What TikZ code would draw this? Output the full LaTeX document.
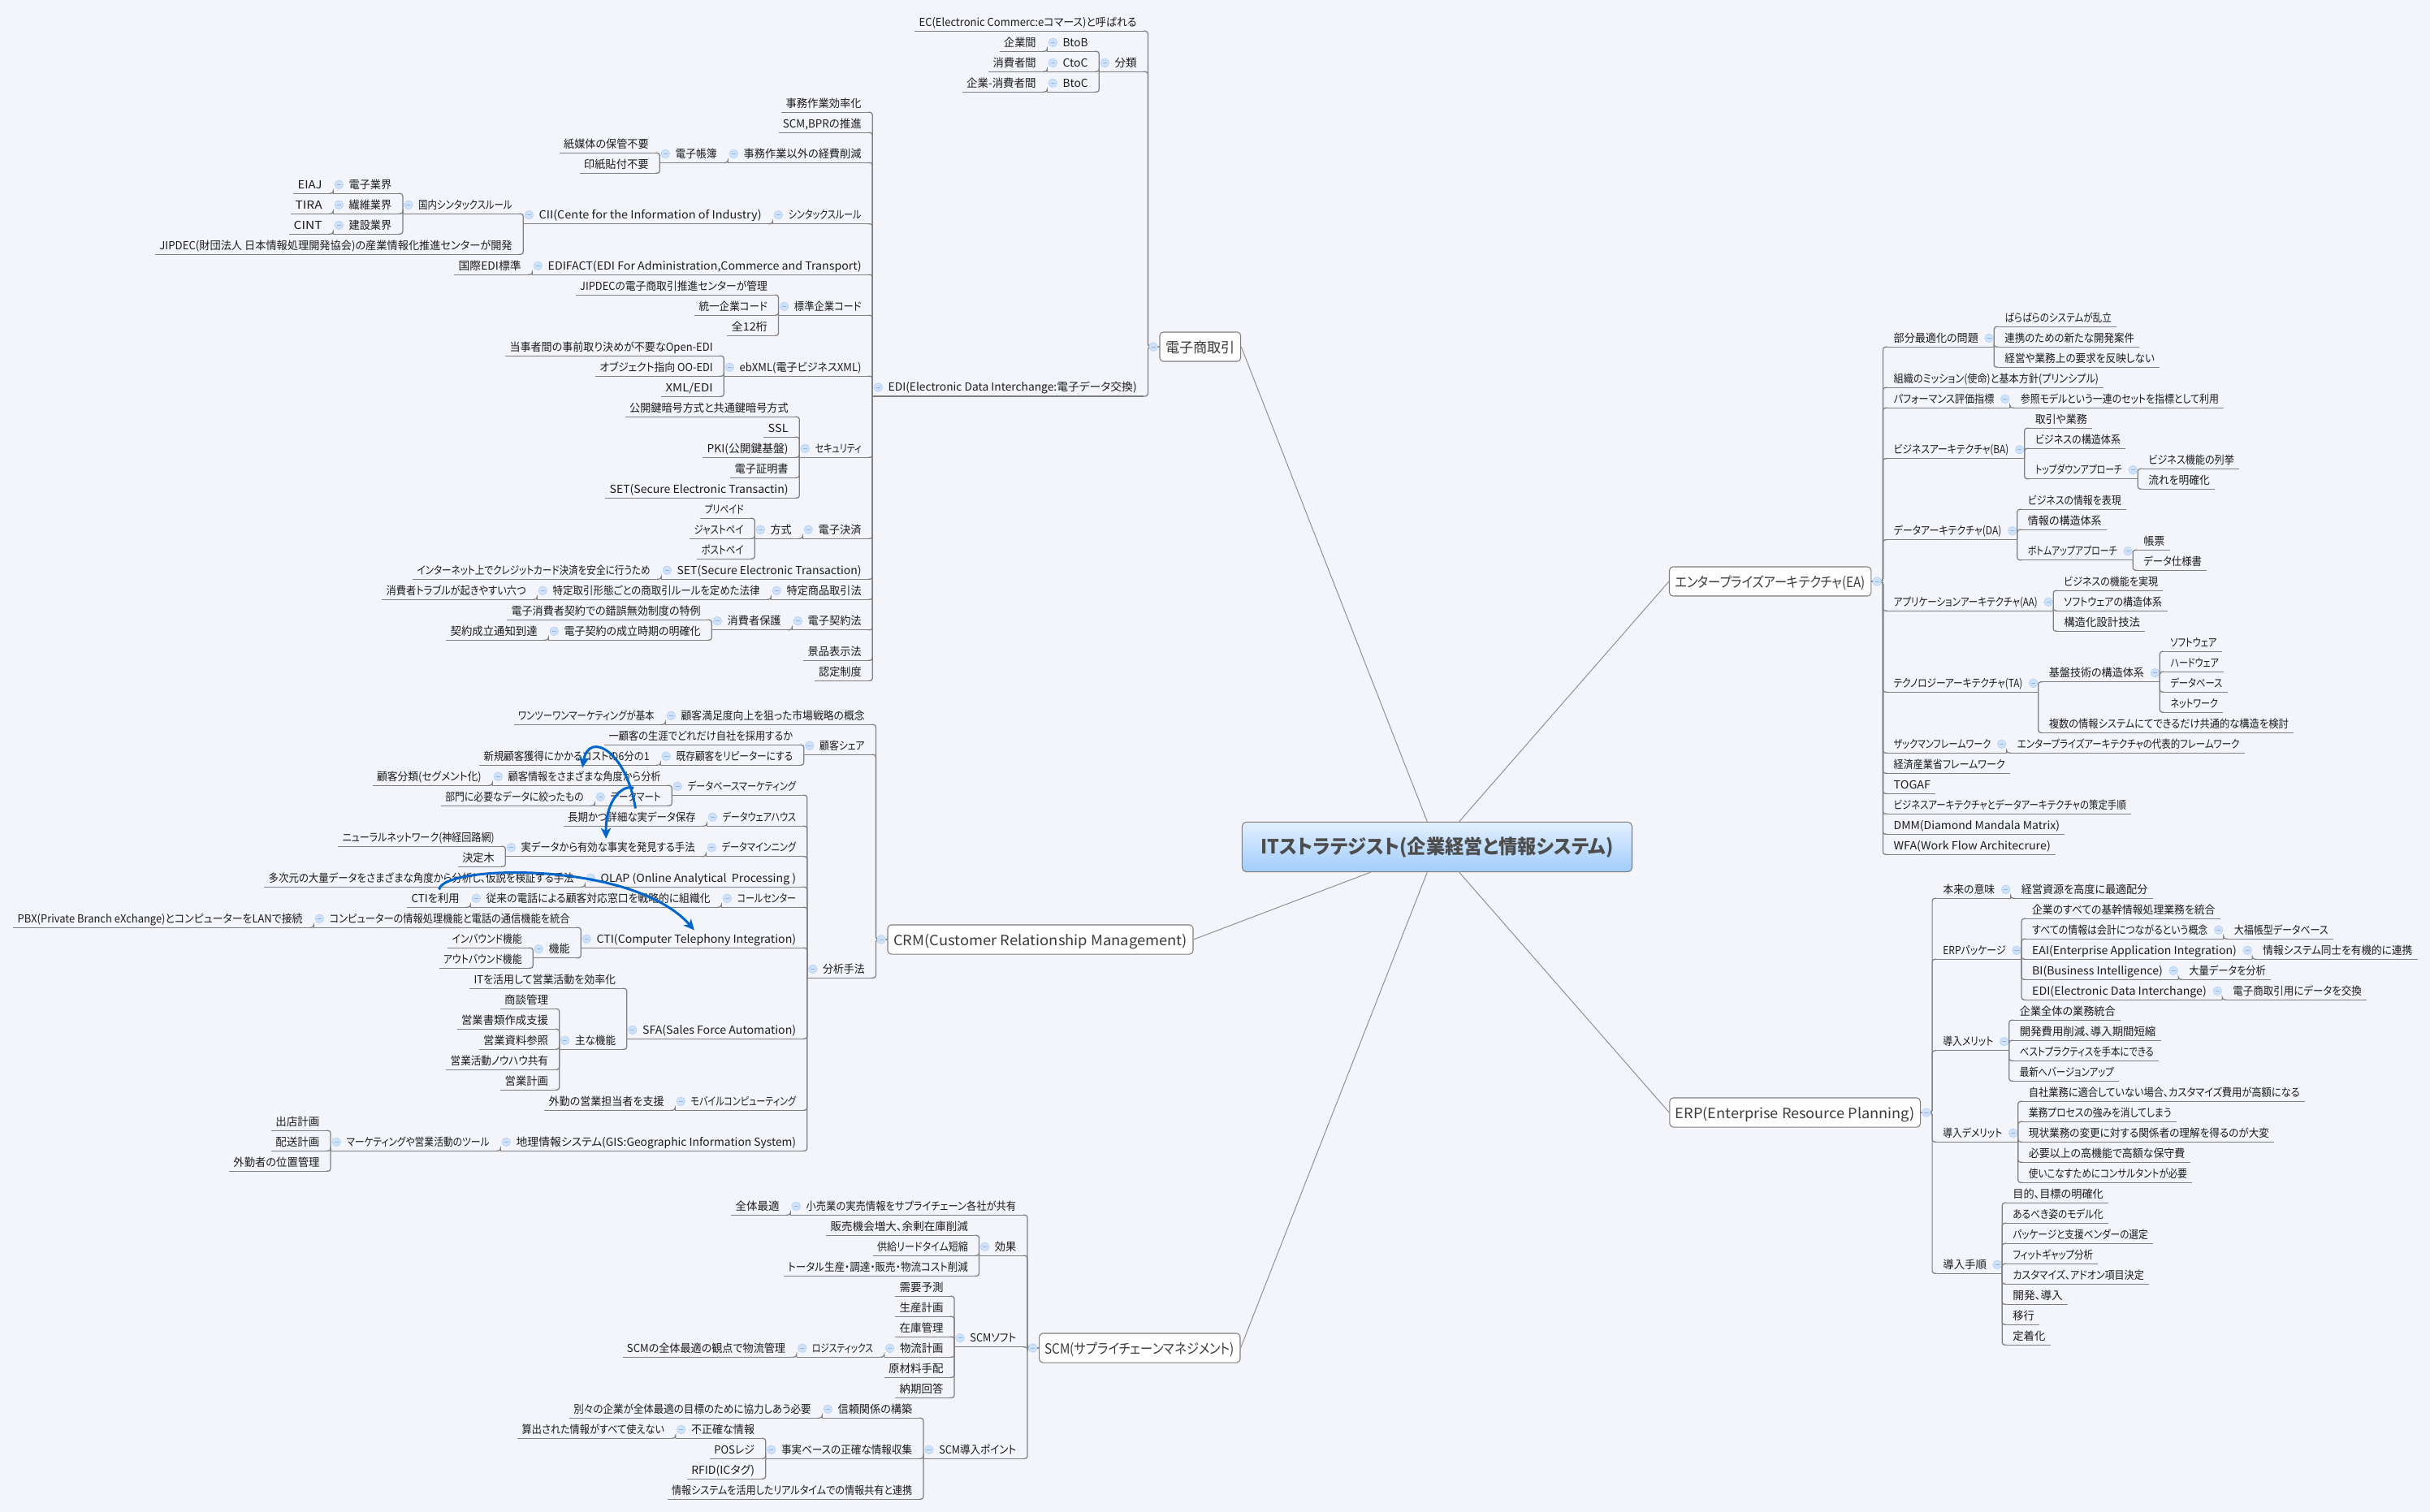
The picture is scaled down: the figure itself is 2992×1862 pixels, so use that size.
\documentclass[tikz,border=0pt]{standalone}
\usepackage{graphicx}
\usepackage{fontspec}
\setmainfont{Noto Sans CJK JP}[RawFeature=+palt]
\usepackage{tikz}
\usetikzlibrary{arrows.meta}

\definecolor{paper}{HTML}{F3F5FB}
\definecolor{linkgray}{HTML}{7F7F7F}
\definecolor{spokegray}{HTML}{8E8E8E}
\definecolor{inkgray}{HTML}{1C1C1C}
\definecolor{boxink}{HTML}{3C3C3C}
\definecolor{rootink}{HTML}{4D4D4D}
\definecolor{rootlight}{HTML}{E3F0FF}
\definecolor{rootdeep}{HTML}{A0CCFA}
\definecolor{discfill}{HTML}{D0E2FA}
\definecolor{discedge}{HTML}{B8D2F5}
\definecolor{discbar}{HTML}{8FB5E8}
\definecolor{relblue}{HTML}{0066CC}

\newdimen\px \px=0.569pt
\newbox\fitbox
\newcommand{\topicfont}{\fontsize{7.8}{9}\selectfont}
\newcommand{\boxfont}{\fontsize{9.9}{11}\selectfont}
\newcommand{\rootfont}{\fontsize{13.7}{15}\selectfont\bfseries}
\newcommand{\minusmark}[1]{\draw[markdisc] #1 circle[radius=5.3]; \draw[markbar] #1 ++(-2.6,0) -- ++(5.2,0);}

\tikzset{
	markdisc/.style={draw=discedge,fill=discfill,line width=0.4pt},
	markbar/.style={draw=discbar,line width=0.5pt},
	fitted/.style n args={3}{
		execute at begin node={\setbox\fitbox=\hbox\bgroup},
		execute at end node={\egroup\hspace*{#2\px}\resizebox{\dimexpr#1\px-#2\px-#3\px\relax}{\height}{\box\fitbox}\hspace*{#3\px}}},
	topic/.style={inner sep=0pt,text depth=3.3pt,text height=8.7pt,text=inkgray,font=\topicfont},
	uline/.style={draw=linkgray,line width=0.7pt},
	lleaf/.style={topic,anchor=south east,fitted={#1}{5}{14},
		append after command={(\tikzlastnode.south west) edge[uline] ([xshift=-3.4pt]\tikzlastnode.south east)}},
	lnode/.style={topic,anchor=south east,fitted={#1}{19}{14},
		append after command={(\tikzlastnode.south west) edge[uline] ([xshift=-3.4pt]\tikzlastnode.south east)
		\pgfextra{\minusmark{([shift={(7,-11)}]\tikzlastnode.south west)}}}},
	rleaf/.style={topic,anchor=south west,fitted={#1}{13.5}{6},
		append after command={([xshift=3.4pt]\tikzlastnode.south west) edge[uline] (\tikzlastnode.south east)}},
	rnode/.style={topic,anchor=south west,fitted={#1}{13.5}{19},
		append after command={([xshift=3.4pt]\tikzlastnode.south west) edge[uline] (\tikzlastnode.south east)
		\pgfextra{\minusmark{([shift={(-6,-11)}]\tikzlastnode.south east)}}}},
	lcon/.style={draw=linkgray,line width=0.7pt,rounded corners=1.8pt,
		to path={(\tikztostart.south west) |- ([xshift=-3.4pt]\tikztotarget.south east)}},
	rcon/.style={draw=linkgray,line width=0.7pt,rounded corners=1.8pt,
		to path={(\tikztostart.south east) |- ([xshift=3.4pt]\tikztotarget.south west)}},
	lboxcon/.style={draw=linkgray,line width=0.7pt,rounded corners=1.8pt,
		to path={(\tikztostart.west) -- ([xshift=-8pt]\tikztostart.west) |- ([xshift=-3.4pt]\tikztotarget.south east)}},
	rboxcon/.style={draw=linkgray,line width=0.7pt,rounded corners=1.8pt,
		to path={(\tikztostart.east) -- ([xshift=8pt]\tikztostart.east) |- ([xshift=3.4pt]\tikztotarget.south west)}},
	mainbox/.style={draw=linkgray,fill=white,line width=0.6pt,rounded corners=2.5pt,inner sep=0pt,
		text depth=3pt,text height=11pt,minimum height=20.5pt,text=boxink,font=\boxfont,fitted={#1}{7}{7}},
	rootbox/.style={draw=linkgray,top color=rootlight,bottom color=rootdeep,line width=0.6pt,rounded corners=3pt,inner sep=0pt,
		text depth=4pt,text height=14pt,minimum height=34.9pt,text=rootink,font=\rootfont,fitted={#1}{23}{23}},
	spoke/.style={draw=spokegray,line width=0.55pt},
	relation/.style={draw=relblue,line width=1.7pt,-{Stealth[length=7.5pt,width=7pt,inset=2pt]}},
}

\begin{document}
\begin{tikzpicture}[x=0.569pt,y=-0.569pt]
	\fill[paper] (0,0) rectangle (2992,1862);
	\useasboundingbox (0,0) rectangle (2992,1862);

	\node[rootbox=480] (root) at (1769.45,1043) {ITストラテジスト(企業経営と情報システム)};
	\node[mainbox=99.7] (elec) at (1477.85,427) {電子商取引};
	\node[mainbox=376] (crm) at (1281,1157) {CRM(Customer Relationship Management)};
	\node[mainbox=247.4] (scm) at (1403.3,1660) {SCM(サプライチェーンマネジメント)};
	\node[mainbox=248.3] (ea) at (2179.65,716) {エンタープライズアーキテクチャ(EA)};
	\node[mainbox=308.7] (erp) at (2210.15,1370) {ERP(Enterprise Resource Planning)};
	\draw[spoke] (root) -- (elec.east);
	\draw[spoke] (root) -- (crm.east);
	\draw[spoke] (root) -- (scm.east);
	\draw[spoke] (root) -- (ea.west);
	\draw[spoke] (root) -- (erp.west);

	\node[lleaf=287] (ec) at (1414,38.3) {EC(Electronic Commerc:eコマース)と呼ばれる};
	\node[lnode=60] (bunrui) at (1414,88.3) {分類};
	\node[lnode=64] (btob) at (1354,63.3) {BtoB};
	\node[lleaf=58.6] (kigyokan) at (1290,63.3) {企業間};
	\node[lnode=64] (ctoc) at (1354,88.3) {CtoC};
	\node[lleaf=72] (shohikan) at (1290,88.3) {消費者間};
	\node[lnode=64] (btoc) at (1354,113.3) {BtoC};
	\node[lleaf=104.5] (kigyoshohi) at (1290,113.3) {企業-消費者間};
	\node[lnode=339] (edi) at (1414,488) {EDI(Electronic Data Interchange:電子データ交換)};
	\path (elec) edge[lboxcon] (ec) edge[lboxcon] (bunrui) edge[lboxcon] (edi);
	\minusmark{([xshift=-4.2pt]elec.west)}
	\path (bunrui) edge[lcon] (btob) edge[lcon] (ctoc) edge[lcon] (btoc);
	\path (btob) edge[lcon] (kigyokan);
	\path (ctoc) edge[lcon] (shohikan);
	\path (btoc) edge[lcon] (kigyoshohi);

	\node[lleaf=112] (jimu) at (1075,138.3) {事務作業効率化};
	\node[lleaf=115.7] (scmbpr) at (1075,163.3) {SCM,BPRの推進};
	\node[lnode=178] (keihi) at (1075,200.4) {事務作業以外の経費削減};
	\node[lnode=84] (chobo) at (897,200.4) {電子帳簿};
	\node[lleaf=123.5] (kamibaitai) at (813,188.3) {紙媒体の保管不要};
	\node[lleaf=98.8] (inshi) at (813,213.3) {印紙貼付不要};
	\path (keihi) edge[lcon] (chobo);
	\path (chobo) edge[lcon] (kamibaitai) edge[lcon] (inshi);
	\node[lnode=123] (syntax) at (1075,275.7) {シンタックスルール};
	\node[lnode=307] (cii) at (952,275.7) {CII(Cente for the Information of Industry)};
	\node[lnode=148.4] (kokunai) at (645,263.3) {国内シンタックスルール};
	\node[lnode=85.6] (denshi) at (496.6,238.3) {電子業界};
	\node[lleaf=49] (eiaj) at (411,238.3) {EIAJ};
	\node[lnode=85.6] (seni) at (496.6,263.3) {繊維業界};
	\node[lleaf=52] (tira) at (411,263.3) {TIRA};
	\node[lnode=85.6] (kensetsu) at (496.6,288.3) {建設業界};
	\node[lleaf=54] (cint) at (411,288.3) {CINT};
	\node[lleaf=453.2] (jipdec) at (645,313.3) {JIPDEC(財団法人 日本情報処理開発協会)の産業情報化推進センターが開発};
	\path (syntax) edge[lcon] (cii);
	\path (cii) edge[lcon] (kokunai) edge[lcon] (jipdec);
	\path (kokunai) edge[lcon] (denshi) edge[lcon] (seni) edge[lcon] (kensetsu);
	\path (denshi) edge[lcon] (eiaj);
	\path (seni) edge[lcon] (tira);
	\path (kensetsu) edge[lcon] (cint);
	\node[lnode=419] (edifact) at (1075,338.3) {EDIFACT(EDI For Administration,Commerce and Transport)};
	\node[lleaf=96] (kokusai) at (656,338.3) {国際EDI標準};
	\path (edifact) edge[lcon] (kokusai);
	\node[lnode=115.7] (hyojun) at (1075,388.3) {標準企業コード};
	\node[lleaf=249.7] (jipkanri) at (959.3,363.3) {JIPDECの電子商取引推進センターが管理};
	\node[lleaf=103.3] (toitsu) at (959.3,388.3) {統一企業コード};
	\node[lleaf=63.3] (zen12) at (959.3,413.3) {全12桁};
	\path (hyojun) edge[lcon] (jipkanri) edge[lcon] (toitsu) edge[lcon] (zen12);
	\node[lnode=183] (ebxml) at (1075,463.3) {ebXML(電子ビジネスXML)};
	\node[lleaf=269] (opendi) at (892,438.3) {当事者間の事前取り決めが不要なOpen-EDI};
	\node[lleaf=158.3] (ooedi) at (892,463.3) {オブジェクト指向 OO-EDI};
	\node[lleaf=77] (xmledi) at (892,488.3) {XML/EDI};
	\path (ebxml) edge[lcon] (opendi) edge[lcon] (ooedi) edge[lcon] (xmledi);
	\node[lnode=90] (security) at (1075,563.3) {セキュリティ};
	\node[lleaf=214.5] (kagi) at (985,513.3) {公開鍵暗号方式と共通鍵暗号方式};
	\node[lleaf=44] (ssl) at (985,538.3) {SSL};
	\node[lleaf=119] (pki) at (985,563.3) {PKI(公開鍵基盤)};
	\node[lleaf=85] (shomei) at (985,588.3) {電子証明書};
	\node[lleaf=239] (settr) at (985,613.3) {SET(Secure Electronic Transactin)};
	\path (security) edge[lcon] (kagi) edge[lcon] (ssl) edge[lcon] (pki) edge[lcon] (shomei) edge[lcon] (settr);
	\node[lnode=86] (kessai) at (1075,663.3) {電子決済};
	\node[lnode=59] (hoshiki) at (989,663.3) {方式};
	\node[lleaf=67] (prepaid) at (930,638.3) {プリペイド};
	\node[lleaf=80] (justpay) at (930,663.3) {ジャストペイ};
	\node[lleaf=71] (postpay) at (930,688.3) {ポストペイ};
	\path (kessai) edge[lcon] (hoshiki);
	\path (hoshiki) edge[lcon] (prepaid) edge[lcon] (justpay) edge[lcon] (postpay);
	\node[lnode=260] (setnode) at (1075,713.3) {SET(Secure Electronic Transaction)};
	\node[lleaf=306] (internet) at (815,713.3) {インターネット上でクレジットカード決済を安全に行うため};
	\path (setnode) edge[lcon] (internet);
	\node[lnode=125] (tokutei) at (1075,738.3) {特定商品取引法};
	\node[lnode=288] (keitai) at (950,738.3) {特定取引形態ごとの商取引ルールを定めた法律};
	\node[lleaf=191] (trouble) at (662,738.3) {消費者トラブルが起きやすい六つ};
	\path (tokutei) edge[lcon] (keitai);
	\path (keitai) edge[lcon] (trouble);
	\node[lnode=99] (keiyaku) at (1075,775.7) {電子契約法};
	\node[lnode=99] (hogo) at (976,775.7) {消費者保護};
	\node[lleaf=252] (sakugo) at (877,763.3) {電子消費者契約での錯誤無効制度の特例};
	\node[lnode=201] (seiritsu) at (877,788.3) {電子契約の成立時期の明確化};
	\node[lleaf=126] (tsuchi) at (676,788.3) {契約成立通知到達};
	\path (keiyaku) edge[lcon] (hogo);
	\path (hogo) edge[lcon] (sakugo) edge[lcon] (seiritsu);
	\path (seiritsu) edge[lcon] (tsuchi);
	\node[lleaf=85] (keihin) at (1075,813.3) {景品表示法};
	\node[lleaf=71.5] (nintei) at (1075,838.3) {認定制度};
	\path (edi) edge[lcon] (jimu) edge[lcon] (scmbpr) edge[lcon] (keihi) edge[lcon] (syntax) edge[lcon] (edifact) edge[lcon] (hyojun) edge[lcon] (ebxml) edge[lcon] (security) edge[lcon] (kessai) edge[lcon] (setnode) edge[lcon] (tokutei) edge[lcon] (keiyaku) edge[lcon] (keihin) edge[lcon] (nintei);

	\node[lnode=259] (manzoku) at (1079,892.3) {顧客満足度向上を狙った市場戦略の概念};
	\node[lleaf=186.5] (one2one) at (820,892.3) {ワンツーワンマーケティングが基本};
	\node[lnode=88.5] (share) at (1079,929.3) {顧客シェア};
	\node[lleaf=245.5] (shogai) at (990.5,917.3) {一顧客の生涯でどれだけ自社を採用するか};
	\node[lnode=176.5] (repeater) at (990.5,942.3) {既存顧客をリピーターにする};
	\node[lleaf=223] (shinki) at (814,942.3) {新規顧客獲得にかかるコストの6分の1};
	\node[lnode=84.5] (bunseki) at (1079,1204.3) {分析手法};
	\path (crm) edge[lboxcon] (manzoku) edge[lboxcon] (share) edge[lboxcon] (bunseki);
	\minusmark{([xshift=-4.2pt]crm.west)}
	\path (manzoku) edge[lcon] (one2one);
	\path (share) edge[lcon] (shogai) edge[lcon] (repeater);
	\path (repeater) edge[lcon] (shinki);
	\node[lnode=166.5] (dbmkt) at (994.5,979.3) {データベースマーケティング};
	\node[lnode=221] (kakudo) at (828,967.3) {顧客情報をさまざまな角度から分析};
	\node[lleaf=147.5] (segment) at (607,967.3) {顧客分類(セグメント化)};
	\node[lnode=95] (datamart) at (828,992.3) {データマート};
	\node[lleaf=189.3] (bumon) at (733,992.3) {部門に必要なデータに絞ったもの};
	\path (dbmkt) edge[lcon] (kakudo) edge[lcon] (datamart);
	\path (kakudo) edge[lcon] (segment);
	\path (datamart) edge[lcon] (bumon);
	\node[lnode=123.5] (dwh) at (994.5,1017.3) {データウェアハウス};
	\node[lleaf=176.5] (nagaki) at (871,1017.3) {長期かつ詳細な実データ保存};
	\path (dwh) edge[lcon] (nagaki);
	\node[lnode=124.5] (mining) at (994.5,1054.7) {データマインニング};
	\node[lnode=247] (hakken) at (870,1054.7) {実データから有効な事実を発見する手法};
	\node[lleaf=206] (neural) at (623,1042.3) {ニューラルネットワーク(神経回路網)};
	\node[lleaf=58.3] (kettei) at (623,1067.3) {決定木};
	\path (mining) edge[lcon] (hakken);
	\path (hakken) edge[lcon] (neural) edge[lcon] (kettei);
	\node[lnode=273.5] (olap) at (994.5,1092.3) {OLAP (Online Analytical\ \ Processing )};
	\node[lleaf=395] (tajigen) at (721,1092.3) {多次元の大量データをさまざまな角度から分析し、仮説を検証する手法};
	\path (olap) edge[lcon] (tajigen);
	\node[lnode=105.5] (callcenter) at (994.5,1117.3) {コールセンター};
	\node[lnode=309] (juurai) at (889,1117.3) {従来の電話による顧客対応窓口を戦略的に組織化};
	\node[lleaf=78] (ctiuse) at (580,1117.3) {CTIを利用};
	\path (callcenter) edge[lcon] (juurai);
	\path (juurai) edge[lcon] (ctiuse);
	\node[lnode=278.5] (cti) at (994.5,1167.3) {CTI(Computer Telephony Integration)};
	\node[lnode=329] (tougou) at (716,1142.3) {コンピューターの情報処理機能と電話の通信機能を統合};
	\node[lleaf=370] (pbx) at (387,1142.3) {PBX(Private Branch eXchange)とコンピューターをLANで接続};
	\node[lnode=59] (kinou) at (716,1179.7) {機能};
	\node[lleaf=105] (inbound) at (657,1167.3) {インバウンド機能};
	\node[lleaf=115.6] (outbound) at (657,1192.3) {アウトバウンド機能};
	\path (cti) edge[lcon] (tougou) edge[lcon] (kinou);
	\path (tougou) edge[lcon] (pbx);
	\path (kinou) edge[lcon] (inbound) edge[lcon] (outbound);
	\node[lnode=222] (sfa) at (994.5,1279.3) {SFA(Sales Force Automation)};
	\node[lleaf=193.5] (itkatsuyo) at (772.5,1217.3) {ITを活用して営業活動を効率化};
	\node[lnode=83.1] (omona) at (772.5,1292.3) {主な機能};
	\node[lleaf=73] (shodan) at (689.4,1242.3) {商談管理};
	\node[lleaf=126] (shorui) at (689.4,1267.3) {営業書類作成支援};
	\node[lleaf=99] (shiryo) at (689.4,1292.3) {営業資料参照};
	\node[lleaf=139.4] (knowhow) at (689.4,1317.3) {営業活動ノウハウ共有};
	\node[lleaf=72.4] (keikaku) at (689.4,1342.3) {営業計画};
	\path (sfa) edge[lcon] (itkatsuyo) edge[lcon] (omona);
	\path (omona) edge[lcon] (shodan) edge[lcon] (shorui) edge[lcon] (shiryo) edge[lcon] (knowhow) edge[lcon] (keikaku);
	\node[lnode=162.5] (mobile) at (994.5,1367.3) {モバイルコンピューティング};
	\node[lleaf=161] (gaikin) at (832,1367.3) {外勤の営業担当者を支援};
	\path (mobile) edge[lcon] (gaikin);
	\node[lnode=377.5] (gis) at (994.5,1417.3) {地理情報システム(GIS:Geographic Information System)};
	\node[lnode=209.2] (tool) at (617,1417.3) {マーケティングや営業活動のツール};
	\node[lleaf=73] (shutten) at (407.8,1392.3) {出店計画};
	\node[lleaf=73] (haiso) at (407.8,1417.3) {配送計画};
	\node[lleaf=125] (ichi) at (407.8,1442.3) {外勤者の位置管理};
	\path (gis) edge[lcon] (tool);
	\path (tool) edge[lcon] (shutten) edge[lcon] (haiso) edge[lcon] (ichi);
	\path (bunseki) edge[lcon] (dbmkt) edge[lcon] (dwh) edge[lcon] (mining) edge[lcon] (olap) edge[lcon] (callcenter) edge[lcon] (cti) edge[lcon] (sfa) edge[lcon] (mobile) edge[lcon] (gis);

	\node[lnode=291.6] (kouri) at (1265.6,1496.3) {小売業の実売情報をサプライチェーン各社が共有};
	\node[lleaf=73] (zentai) at (974,1496.3) {全体最適};
	\node[lnode=59.3] (kouka) at (1265.6,1546.3) {効果};
	\node[lleaf=188.3] (hanbai) at (1206.3,1521.3) {販売機会増大、余剰在庫削減};
	\node[lleaf=130.9] (kyokyu) at (1206.3,1546.3) {供給リードタイム短縮};
	\node[lleaf=240.6] (total) at (1206.3,1571.3) {トータル生産・調達・販売・物流コスト削減};
	\node[lnode=89.8] (soft) at (1265.6,1658.7) {SCMソフト};
	\node[lleaf=72.8] (juyo) at (1175.8,1596.3) {需要予測};
	\node[lleaf=72.8] (seisan) at (1175.8,1621.3) {生産計画};
	\node[lleaf=72.8] (zaiko) at (1175.8,1646.3) {在庫管理};
	\node[lnode=86.4] (butsuryu) at (1175.8,1671.3) {物流計画};
	\node[lnode=108] (logi) at (1089.4,1671.3) {ロジスティックス};
	\node[lleaf=214.1] (kanten) at (981.4,1671.3) {SCMの全体最適の観点で物流管理};
	\node[lleaf=86.3] (genzai) at (1175.8,1696.3) {原材料手配};
	\node[lleaf=72.8] (noki) at (1175.8,1721.3) {納期回答};
	\node[lnode=128] (point) at (1265.6,1796.3) {SCM導入ポイント};
	\node[lnode=124.6] (shinrai) at (1137.6,1746.3) {信頼関係の構築};
	\node[lleaf=311.4] (betsubetsu) at (1013,1746.3) {別々の企業が全体最適の目標のために協力しあう必要};
	\node[lnode=194.2] (jijitsu) at (1137.6,1796.3) {事実ベースの正確な情報収集};
	\node[lnode=111] (fuseikaku) at (943.4,1771.3) {不正確な情報};
	\node[lleaf=194.4] (sanshutsu) at (832.4,1771.3) {算出された情報がすべて使えない};
	\node[lleaf=68.7] (pos) at (943.4,1796.3) {POSレジ};
	\node[lleaf=96.8] (rfid) at (943.4,1821.3) {RFID(ICタグ)};
	\node[lleaf=315.1] (realtime) at (1137.6,1846.3) {情報システムを活用したリアルタイムでの情報共有と連携};
	\path (scm) edge[lboxcon] (kouri) edge[lboxcon] (kouka) edge[lboxcon] (soft) edge[lboxcon] (point);
	\minusmark{([xshift=-4.2pt]scm.west)}
	\path (kouri) edge[lcon] (zentai);
	\path (kouka) edge[lcon] (hanbai) edge[lcon] (kyokyu) edge[lcon] (total);
	\path (soft) edge[lcon] (juyo) edge[lcon] (seisan) edge[lcon] (zaiko) edge[lcon] (butsuryu) edge[lcon] (genzai) edge[lcon] (noki);
	\path (butsuryu) edge[lcon] (logi);
	\path (logi) edge[lcon] (kanten);
	\path (point) edge[lcon] (shinrai) edge[lcon] (jijitsu) edge[lcon] (realtime);
	\path (shinrai) edge[lcon] (betsubetsu);
	\path (jijitsu) edge[lcon] (fuseikaku) edge[lcon] (pos) edge[lcon] (rfid);
	\path (fuseikaku) edge[lcon] (sanshutsu);

	\node[rnode=136.7] (bubun) at (2317.8,427.3) {部分最適化の問題};
	\node[rleaf=151] (barabara) at (2454.5,402.3) {ばらばらのシステムが乱立};
	\node[rleaf=179.1] (renkei) at (2454.5,427.3) {連携のための新たな開発案件};
	\node[rleaf=204.1] (hanei) at (2454.5,452.3) {経営や業務上の要求を反映しない};
	\path (bubun) edge[rcon] (barabara) edge[rcon] (renkei) edge[rcon] (hanei);
	\node[rleaf=271.9] (mission) at (2317.8,477.3) {組織のミッション(使命)と基本方針(プリンシプル)};
	\node[rnode=156.2] (perf) at (2317.8,502.3) {パフォーマンス評価指標};
	\node[rleaf=263.6] (sansho) at (2474,502.3) {参照モデルという一連のセットを指標として利用};
	\path (perf) edge[rcon] (sansho);
	\node[rnode=174.2] (ba) at (2317.8,564.7) {ビジネスアーキテクチャ(BA)};
	\node[rleaf=83.4] (torihiki) at (2492,527.3) {取引や業務};
	\node[rleaf=124.7] (bakozo) at (2492,552.3) {ビジネスの構造体系};
	\node[rnode=139.5] (topdown) at (2492,589.7) {トップダウンアプローチ};
	\node[rleaf=125] (rekkyo) at (2631.5,577.3) {ビジネス機能の列挙};
	\node[rleaf=95] (nagare) at (2631.5,602.3) {流れを明確化};
	\path (ba) edge[rcon] (torihiki) edge[rcon] (bakozo) edge[rcon] (topdown);
	\path (topdown) edge[rcon] (rekkyo) edge[rcon] (nagare);
	\node[rnode=165.2] (da) at (2317.8,664.7) {データアーキテクチャ(DA)};
	\node[rleaf=134.3] (hyogen) at (2483,627.3) {ビジネスの情報を表現};
	\node[rleaf=110.3] (jokozo) at (2483,652.3) {情報の構造体系};
	\node[rnode=142.4] (bottomup) at (2483,689.7) {ボトムアップアプローチ};
	\node[rleaf=45.6] (chohyo) at (2625.4,677.3) {帳票};
	\node[rleaf=91.3] (shiyo) at (2625.4,702.3) {データ仕様書};
	\path (da) edge[rcon] (hyogen) edge[rcon] (jokozo) edge[rcon] (bottomup);
	\path (bottomup) edge[rcon] (chohyo) edge[rcon] (shiyo);
	\node[rnode=209.6] (aa) at (2317.8,752.3) {アプリケーションアーキテクチャ(AA)};
	\node[rleaf=135.3] (jitsugen) at (2527.4,727.3) {ビジネスの機能を実現};
	\node[rleaf=140.4] (swkozo) at (2527.4,752.3) {ソフトウェアの構造体系};
	\node[rleaf=113.3] (sekkei) at (2527.4,777.3) {構造化設計技法};
	\path (aa) edge[rcon] (jitsugen) edge[rcon] (swkozo) edge[rcon] (sekkei);
	\node[rnode=191.2] (ta) at (2317.8,852.3) {テクノロジーアーキテクチャ(TA)};
	\node[rnode=149.6] (kiban) at (2509,839.7) {基盤技術の構造体系};
	\node[rleaf=76.4] (software) at (2658.6,802.3) {ソフトウェア};
	\node[rleaf=79] (hardware) at (2658.6,827.3) {ハードウェア};
	\node[rleaf=83.4] (database) at (2658.6,852.3) {データベース};
	\node[rleaf=78] (network) at (2658.6,877.3) {ネットワーク};
	\node[rleaf=314.4] (fukusu) at (2509,902.3) {複数の情報システムにてできるだけ共通的な構造を検討};
	\path (ta) edge[rcon] (kiban) edge[rcon] (fukusu);
	\path (kiban) edge[rcon] (software) edge[rcon] (hardware) edge[rcon] (database) edge[rcon] (network);
	\node[rnode=152.2] (zachman) at (2317.8,927.3) {ザックマンフレームワーク};
	\node[rleaf=293] (daihyo) at (2470,927.3) {エンタープライズアーキテクチャの代表的フレームワーク};
	\path (zachman) edge[rcon] (daihyo);
	\node[rleaf=156.6] (meti) at (2317.8,952.3) {経済産業省フレームワーク};
	\node[rleaf=64.8] (togaf) at (2317.8,977.3) {TOGAF};
	\node[rleaf=305.6] (sakutei) at (2317.8,1002.3) {ビジネスアーキテクチャとデータアーキテクチャの策定手順};
	\node[rleaf=223.9] (dmm) at (2317.8,1027.3) {DMM(Diamond Mandala Matrix)};
	\node[rleaf=212.7] (wfa) at (2317.8,1052.3) {WFA(Work Flow Architecrure)};
	\path (ea) edge[rboxcon] (bubun) edge[rboxcon] (mission) edge[rboxcon] (perf) edge[rboxcon] (ba) edge[rboxcon] (da) edge[rboxcon] (aa) edge[rboxcon] (ta) edge[rboxcon] (zachman) edge[rboxcon] (meti) edge[rboxcon] (togaf) edge[rboxcon] (sakutei) edge[rboxcon] (dmm) edge[rboxcon] (wfa);
	\minusmark{([xshift=3.9pt]ea.east)}

	\node[rnode=96.5] (honrai) at (2378.5,1106.3) {本来の意味};
	\node[rleaf=175] (haibun) at (2475,1106.3) {経営資源を高度に最適配分};
	\path (honrai) edge[rcon] (haibun);
	\node[rnode=109.8] (package) at (2378.5,1181.3) {ERPパッケージ};
	\node[rleaf=244.7] (kikan) at (2488.3,1131.3) {企業のすべての基幹情報処理業務を統合};
	\node[rnode=248.7] (kaikei) at (2488.3,1156.3) {すべての情報は会計につながるという概念};
	\node[rleaf=135.3] (daifuku) at (2737,1156.3) {大福帳型データベース};
	\node[rnode=284.2] (eai) at (2488.3,1181.3) {EAI(Enterprise Application Integration)};
	\node[rleaf=203.5] (yuki) at (2772.5,1181.3) {情報システム同士を有機的に連携};
	\node[rnode=193.2] (bi) at (2488.3,1206.3) {BI(Business Intelligence)};
	\node[rleaf=114.1] (tairyo) at (2681.5,1206.3) {大量データを分析};
	\node[rnode=247.2] (ediinter) at (2488.3,1231.3) {EDI(Electronic Data Interchange)};
	\node[rleaf=178] (kokan) at (2735.5,1231.3) {電子商取引用にデータを交換};
	\path (package) edge[rcon] (kikan) edge[rcon] (kaikei) edge[rcon] (eai) edge[rcon] (bi) edge[rcon] (ediinter);
	\path (kaikei) edge[rcon] (daifuku);
	\path (eai) edge[rcon] (yuki);
	\path (bi) edge[rcon] (tairyo);
	\path (ediinter) edge[rcon] (kokan);
	\node[rnode=94.5] (merit) at (2378.5,1293.7) {導入メリット};
	\node[rleaf=137.4] (gyomu) at (2473,1256.3) {企業全体の業務統合};
	\node[rleaf=187] (kaihatsu) at (2473,1281.3) {開発費用削減、導入期間短縮};
	\node[rleaf=184.6] (best) at (2473,1306.3) {ベストプラクティスを手本にできる};
	\node[rleaf=135.5] (saishin) at (2473,1331.3) {最新へバージョンアップ};
	\path (merit) edge[rcon] (gyomu) edge[rcon] (kaihatsu) edge[rcon] (best) edge[rcon] (saishin);
	\node[rnode=105.5] (demerit) at (2378.5,1406.3) {導入デメリット};
	\node[rleaf=353.4] (tekigo) at (2484,1356.3) {自社業務に適合していない場合、カスタマイズ費用が高額になる};
	\node[rleaf=195.3] (tsuyomi) at (2484,1381.3) {業務プロセスの強みを消してしまう};
	\node[rleaf=315.7] (henkou) at (2484,1406.3) {現状業務の変更に対する関係者の理解を得るのが大変};
	\node[rleaf=212] (hoshu) at (2484,1431.3) {必要以上の高機能で高額な保守費};
	\node[rleaf=214.7] (consul) at (2484,1456.3) {使いこなすためにコンサルタントが必要};
	\path (demerit) edge[rcon] (tekigo) edge[rcon] (tsuyomi) edge[rcon] (henkou) edge[rcon] (hoshu) edge[rcon] (consul);
	\node[rnode=86] (tejun) at (2378.5,1568.3) {導入手順};
	\node[rleaf=131] (mokuteki) at (2464.5,1481.3) {目的、目標の明確化};
	\node[rleaf=131] (arubeki) at (2464.5,1506.3) {あるべき姿のモデル化};
	\node[rleaf=185.9] (sentei) at (2464.5,1531.3) {パッケージと支援ベンダーの選定};
	\node[rleaf=118.2] (fitgap) at (2464.5,1556.3) {フィットギャップ分析};
	\node[rleaf=180.9] (customize) at (2464.5,1581.3) {カスタマイズ、アドオン項目決定};
	\node[rleaf=81] (donyu) at (2464.5,1606.3) {開発、導入};
	\node[rleaf=46.1] (ikou) at (2464.5,1631.3) {移行};
	\node[rleaf=59.5] (teichaku) at (2464.5,1656.3) {定着化};
	\path (tejun) edge[rcon] (mokuteki) edge[rcon] (arubeki) edge[rcon] (sentei) edge[rcon] (fitgap) edge[rcon] (customize) edge[rcon] (donyu) edge[rcon] (ikou) edge[rcon] (teichaku);
	\path (erp) edge[rboxcon] (honrai) edge[rboxcon] (package) edge[rboxcon] (merit) edge[rboxcon] (demerit) edge[rboxcon] (tejun);
	\minusmark{([xshift=3.9pt]erp.east)}

	\draw[relation] (nagaki.north) .. controls +(-11,-71) and +(7.5,-46) .. (kakudo.north);
	\draw[relation] (datamart.north) .. controls +(-12.5,-5) and +(-0.5,-49) .. (hakken.north);
	\draw[relation] (ctiuse.north) .. controls +(4,-31) and +(-75,-86) .. (cti.north);
\end{tikzpicture}
\end{document}
